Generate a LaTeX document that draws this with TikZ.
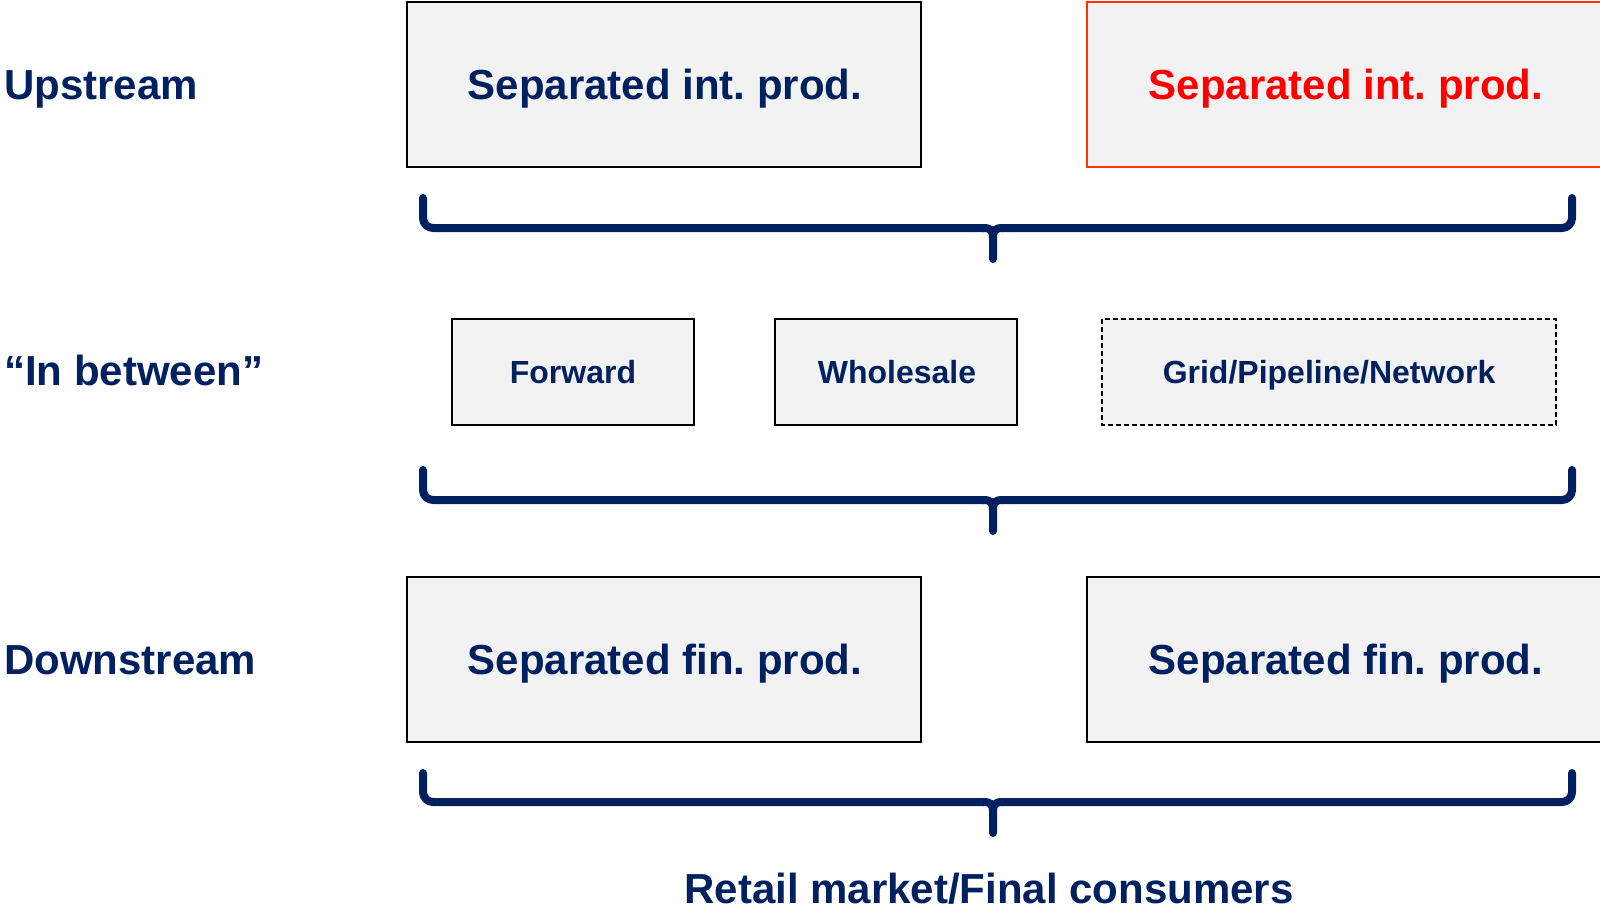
\documentclass[tikz,border=0pt]{standalone}
\usepackage{fontspec}
\setmainfont{Liberation Sans}
\frenchspacing
\definecolor{navy}{HTML}{002060}
\definecolor{boxfill}{HTML}{F2F2F2}
\definecolor{hired}{HTML}{FF0000}
\definecolor{redline}{HTML}{FF3300}
\tikzset{
  stage/.style={font=\fontsize{42}{50}\selectfont\bfseries, text=navy, inner sep=0pt},
  midtext/.style={font=\fontsize{32}{38}\selectfont\bfseries, text=navy, inner sep=0pt},
  panel/.style={draw=black, fill=boxfill, line width=1.8pt},
  brace/.style={draw=navy, line width=8pt, line cap=round, line join=round}
}
\newcommand{\drawbrace}[5]{% left x, right x, tip x, top y, bar y ; tip below
  \draw[brace, rounded corners=10pt] (#1,#4) -- (#1,#5) -- (#3-9,#5);
  \draw[brace, rounded corners=10pt] (#2,#4) -- (#2,#5) -- (#3+9,#5);
  \draw[brace] (#3-10,#5) .. controls (#3-2,#5) and (#3,#5+2) .. (#3,#5+10) -- (#3,#5+31);
  \draw[brace] (#3+10,#5) .. controls (#3+2,#5) and (#3,#5+2) .. (#3,#5+10);
}
\begin{document}
\begin{tikzpicture}[x=1pt,y=-1pt]
\useasboundingbox (0,0) rectangle (1600,908);
\clip (0,0) rectangle (1600,908);

% row labels
\node[stage, anchor=base west] (lup) at (4,99) {Upstream};
\node[stage, anchor=base west] (lmid) at (4,385) {“In between”};
\node[stage, anchor=base west] (ldown) at (4,674) {Downstream};

% upstream producers
\draw[panel] (407,2) rectangle (921,167);
\node[stage, anchor=base] (up1) at (665,99) {Separated int. prod.};
\draw[panel, draw=redline] (1087,2) rectangle (1606,167);
\node[stage, anchor=base, text=hired] (up2) at (1346,99) {Separated int. prod.};

\drawbrace{423}{1572}{993}{198}{228}

% intermediate markets
\draw[panel] (452,319) rectangle (694,425);
\node[midtext, anchor=base] (fwd) at (573,383) {Forward};
\draw[panel] (775,319) rectangle (1017,425);
\node[midtext, anchor=base] (whl) at (897,383) {Wholesale};
\draw[panel, dash pattern=on 5pt off 3pt] (1102,319) rectangle (1556,425);
\node[midtext, anchor=base] (grid) at (1329,383) {Grid/Pipeline/Network};

\drawbrace{423}{1572}{993}{470}{500}

% downstream producers
\draw[panel] (407,577) rectangle (921,742);
\node[stage, anchor=base] (dn1) at (665,674) {Separated fin. prod.};
\draw[panel] (1087,577) rectangle (1606,742);
\node[stage, anchor=base] (dn2) at (1346,674) {Separated fin. prod.};

\drawbrace{423}{1572}{993}{773}{802}

\node[stage, anchor=base] (retail) at (989,903) {Retail market/Final consumers};
\end{tikzpicture}
\end{document}
